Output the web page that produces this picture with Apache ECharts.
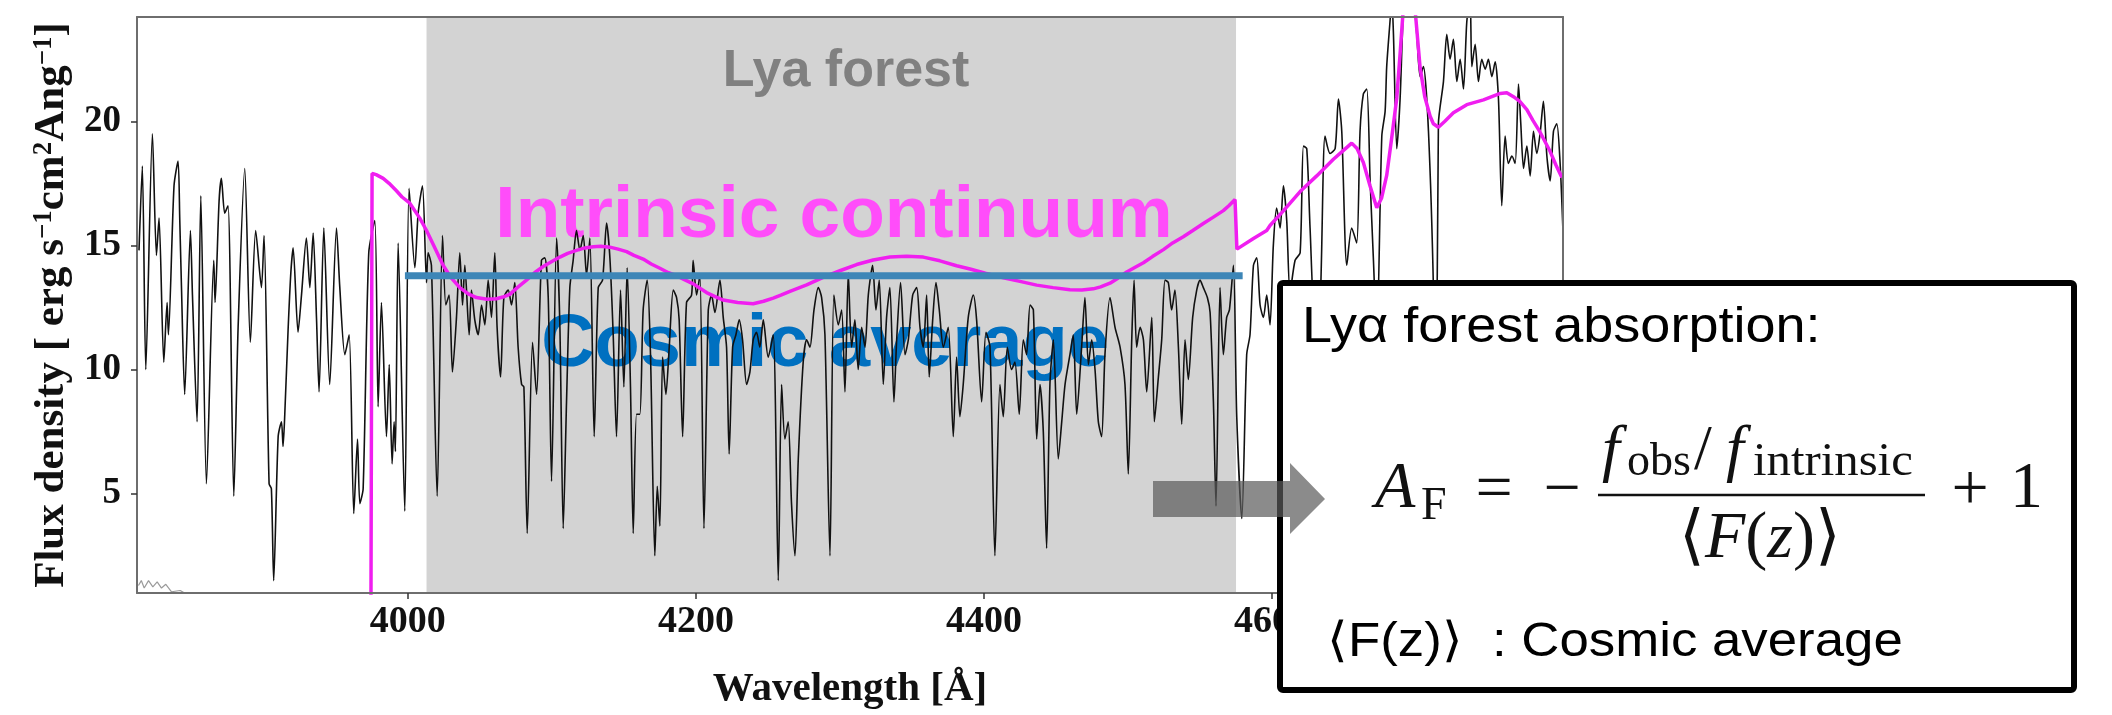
<!DOCTYPE html>
<html>
<head>
<meta charset="utf-8">
<script src="https://cdn.jsdelivr.net/npm/echarts@6/dist/echarts.min.js"></script>
<style>
  html, body { margin: 0; padding: 0; background: #fff; }
  #main { width: 2112px; height: 715px; }
</style>
</head>
<body>
<div id="main"></div>
<script>
// observed spectrum [wavelength (A), flux]
var obsSpectrum = [
  [3813.4,14.8],[3815.7,18.2],[3818.1,10.0],[3822.7,19.5],[3825.5,14.6],[3827.3,16.1],[3830.6,10.3],[3832.9,12.7],
  [3833.8,11.4],[3837.7,17.4],[3840.5,18.4],[3841.7,16.0],[3842.8,13.5],[3845.1,9.0],[3849.1,15.6],[3850.5,13.0],
  [3853.7,7.9],[3856.3,17.0],[3860.2,5.4],[3865.3,14.4],[3866.2,12.7],[3869.0,16.8],[3870.6,17.7],[3872.9,16.3],
  [3875.2,16.6],[3879.2,4.9],[3882.2,11.7],[3886.8,18.1],[3890.7,11.1],[3894.4,15.6],[3898.4,13.3],[3900.2,15.4],
  [3903.7,5.4],[3905.3,5.2],[3906.9,1.5],[3910.0,7.3],[3912.3,7.9],[3913.4,6.9],[3914.6,8.2],[3916.9,11.6],
  [3918.8,13.9],[3920.4,14.9],[3923.8,11.5],[3926.2,13.0],[3929.6,15.3],[3932.0,13.3],[3934.3,15.5],[3936.6,12.1],
  [3938.4,9.1],[3941.7,15.7],[3945.8,9.4],[3950.5,15.7],[3952.8,13.3],[3956.3,10.6],[3959.3,11.4],[3962.5,4.2],
  [3965.1,7.2],[3966.7,4.6],[3969.0,5.2],[3972.9,14.7],[3977.1,16.0],[3979.4,8.5],[3981.7,12.7],[3985.2,7.3],
  [3987.1,10.2],[3989.1,6.2],[3990.5,7.9],[3991.4,6.7],[3993.3,15.1],[3997.9,4.3],[4000.9,17.3],[4004.9,14.1],
  [4007.2,16.3],[4010.2,17.4],[4013.0,13.5],[4014.1,14.7],[4016.4,14.2],[4020.4,4.9],[4024.1,15.4],[4026.4,12.6],
  [4028.7,13.0],[4031.0,9.9],[4033.8,12.1],[4036.1,14.7],[4038.0,12.6],[4039.6,14.2],[4042.6,11.4],[4044.2,13.2],
  [4046.5,12.0],[4048.9,11.4],[4051.2,12.6],[4053.5,11.8],[4055.8,13.6],[4058.1,12.1],[4060.4,14.7],[4062.0,11.7],
  [4064.4,9.7],[4066.7,12.9],[4069.7,13.2],[4072.0,12.6],[4074.3,13.5],[4076.6,10.9],[4079.0,9.4],[4080.6,9.3],
  [4082.9,3.4],[4086.6,11.1],[4089.4,9.0],[4092.8,14.4],[4095.1,14.5],[4097.5,12.9],[4099.8,5.5],[4103.3,15.3],
  [4105.6,11.7],[4107.9,3.6],[4110.2,8.7],[4112.5,13.3],[4114.8,14.4],[4117.1,15.6],[4119.5,14.8],[4121.8,15.4],
  [4124.1,13.8],[4126.4,15.3],[4129.4,7.3],[4132.2,13.3],[4135.2,13.6],[4138.0,15.9],[4140.3,14.5],[4142.6,11.4],
  [4144.9,7.3],[4147.7,13.2],[4150.0,9.3],[4152.3,14.1],[4154.6,9.3],[4156.5,3.4],[4158.8,8.2],[4161.1,8.2],
  [4163.4,12.4],[4166.2,13.6],[4168.5,10.6],[4171.5,2.5],[4173.2,5.3],[4175.0,3.7],[4176.9,10.5],[4179.2,9.0],
  [4181.5,10.9],[4184.3,13.2],[4186.6,12.9],[4188.4,12.0],[4190.8,7.3],[4193.5,12.7],[4197.0,13.0],[4198.1,14.4],
  [4200.5,13.0],[4202.8,13.8],[4205.6,3.6],[4208.6,12.4],[4210.9,13.0],[4213.2,12.3],[4216.7,13.6],[4219.0,12.1],
  [4221.3,10.9],[4223.1,6.6],[4225.5,10.9],[4227.8,11.4],[4230.1,12.0],[4232.4,11.2],[4235.2,9.4],[4237.5,9.9],
  [4239.8,11.2],[4242.1,11.5],[4244.4,10.9],[4246.8,12.0],[4250.2,10.5],[4253.7,11.4],[4257.2,1.5],[4259.5,9.4],
  [4261.8,7.2],[4264.1,7.9],[4266.4,4.6],[4268.8,2.5],[4271.1,6.4],[4274.5,10.3],[4276.9,11.2],[4279.2,10.9],
  [4282.0,12.4],[4285.0,13.3],[4287.3,12.9],[4289.6,11.4],[4293.1,2.5],[4295.8,13.0],[4298.9,11.8],[4301.2,12.4],
  [4303.5,9.1],[4305.8,13.9],[4308.1,10.9],[4310.4,12.0],[4312.7,10.0],[4315.1,11.7],[4317.4,10.9],[4319.7,13.0],
  [4322.7,14.2],[4325.0,12.4],[4327.3,13.6],[4330.1,9.4],[4332.4,12.1],[4334.7,13.3],[4337.5,8.7],[4339.4,11.2],
  [4342.1,13.5],[4345.2,10.6],[4347.5,11.2],[4350.5,13.0],[4353.3,13.3],[4355.6,11.7],[4357.9,10.9],[4360.2,13.0],
  [4362.0,9.7],[4364.4,12.0],[4366.7,13.5],[4369.0,12.4],[4371.8,10.9],[4375.2,11.7],[4378.7,7.3],[4381.0,10.5],
  [4383.3,8.1],[4385.6,9.4],[4389.1,12.1],[4392.6,13.0],[4394.9,12.0],[4398.4,8.7],[4401.4,11.5],[4404.2,10.9],
  [4407.6,2.5],[4411.1,9.4],[4413.4,8.1],[4416.2,10.9],[4419.2,10.0],[4421.5,10.3],[4424.5,8.2],[4427.3,11.2],
  [4429.6,10.6],[4432.0,12.6],[4434.3,12.4],[4436.6,7.2],[4438.9,9.4],[4441.2,7.5],[4443.5,2.8],[4445.8,9.4],
  [4448.2,11.2],[4451.6,6.4],[4454.0,7.9],[4456.3,9.4],[4459.7,10.6],[4462.0,11.4],[4464.4,8.2],[4467.8,10.9],
  [4470.1,12.9],[4472.5,10.2],[4474.8,11.2],[4477.1,10.0],[4479.4,7.9],[4481.7,7.3],[4484.0,10.6],[4487.5,12.9],
  [4491.0,11.7],[4494.5,10.9],[4497.9,9.4],[4500.2,5.8],[4502.6,11.2],[4504.2,13.6],[4506.0,10.9],[4508.4,11.7],
  [4510.7,11.2],[4513.0,9.1],[4516.5,12.1],[4518.3,7.9],[4521.1,9.7],[4523.4,11.2],[4525.7,13.6],[4528.0,13.5],
  [4530.3,12.4],[4532.6,13.2],[4535.0,10.9],[4537.3,7.8],[4539.6,11.2],[4541.9,9.6],[4544.9,12.1],[4547.7,13.2],
  [4550.0,13.6],[4552.3,13.3],[4555.1,12.9],[4557.0,12.3],[4559.3,8.7],[4561.1,4.5],[4563.9,13.3],[4566.2,10.6],
  [4568.5,12.1],[4570.4,12.4],[4573.2,14.2],[4575.5,8.1],[4579.0,4.0],[4582.4,10.6],[4584.7,11.4],[4587.1,14.2],
  [4589.4,14.5],[4591.7,12.6],[4594.0,12.1],[4596.3,13.0],[4598.6,11.8],[4600.9,15.0],[4603.2,16.5],[4605.6,15.7],
  [4607.9,17.4],[4610.2,16.0],[4612.5,13.1],[4616.0,14.4],[4619.5,14.7],[4621.8,19.0],[4624.1,18.9],[4626.4,15.7],
  [4629.9,11.8],[4633.3,12.5],[4636.8,19.4],[4640.3,18.7],[4643.8,18.9],[4646.1,20.9],[4648.4,19.6],[4651.9,14.2],
  [4655.3,15.7],[4658.8,15.1],[4661.1,19.6],[4663.4,21.1],[4665.8,21.3],[4668.1,17.6],[4670.4,14.4],[4672.7,11.2],
  [4676.2,19.4],[4678.5,20.4],[4679.6,22.2],[4682.0,24.1],[4683.1,25.0],[4684.3,23.5],[4686.6,18.9],[4688.9,20.9],
  [4691.2,24.5],[4694.0,26.5],[4697.0,26.0],[4700.5,23.5],[4702.8,21.8],[4705.1,22.2],[4708.6,19.6],[4712.1,13.1],
  [4713.9,5.0],[4715.5,19.9],[4719.0,21.6],[4721.3,23.5],[4723.6,22.5],[4725.9,23.3],[4728.3,21.6],[4730.6,22.5],
  [4732.9,21.3],[4735.2,24.0],[4737.5,25.0],[4738.7,22.2],[4741.0,23.1],[4743.3,21.6],[4745.6,22.5],[4748.0,22.1],
  [4750.2,22.5],[4752.6,21.8],[4754.9,22.4],[4757.2,20.9],[4759.5,16.6],[4761.8,19.4],[4764.1,18.3],[4766.5,18.6],
  [4768.8,18.3],[4771.1,21.5],[4772.7,19.9],[4774.6,18.1],[4776.9,19.0],[4779.2,17.8],[4781.5,19.6],[4783.8,18.7],
  [4786.1,19.5],[4788.4,20.8],[4790.8,18.6],[4793.1,17.6],[4795.4,19.6],[4797.7,19.9],[4800.0,18.3],[4801.9,15.7]
];

// intrinsic continuum fit
var intrinsicCont = [
  [3974.4,0.0],[3975.2,17.9],[3978,17.85],[3982.9,17.7],[3987,17.5],[3992.1,17.2],[3996,16.95],[4001.4,16.7],
  [4008.3,16.1],[4013.0,15.6],[4018,15.0],[4024.5,14.2],[4030,13.7],[4036.1,13.3],[4042,13.05],[4047.7,12.9],
  [4055,12.83],[4061.6,12.85],[4066,12.92],[4070.8,13.03],[4076,13.3],[4082.4,13.6],[4088,13.9],[4094.0,14.15],
  [4100,14.35],[4105.6,14.53],[4111,14.68],[4117.1,14.8],[4123,14.9],[4128.7,14.95],[4134,14.97],[4140.3,14.93],
  [4146,14.85],[4151.9,14.75],[4157,14.6],[4163.4,14.45],[4169,14.25],[4175.0,14.08],[4181,13.9],[4186.6,13.78],
  [4192,13.62],[4198.2,13.45],[4207.4,13.1],[4213,12.95],[4219.0,12.8],[4229,12.7],[4239.8,12.65],[4247,12.75],
  [4253.7,12.88],[4259,13.0],[4265.3,13.15],[4276.9,13.41],[4288.4,13.71],[4300.0,13.98],[4311.6,14.23],[4323.1,14.41],
  [4334.7,14.53],[4346.3,14.56],[4357.9,14.53],[4369.4,14.38],[4381.0,14.18],[4390.3,14.05],[4401,13.88],[4413.4,13.7],
  [4425,13.55],[4436.6,13.4],[4448,13.3],[4459.7,13.21],[4468,13.2],[4475.9,13.25],[4481,13.33],[4487.5,13.48],
  [4493,13.68],[4499.1,13.93],[4505,14.12],[4510.7,14.3],[4517,14.55],[4524.6,14.83],[4531,15.1],[4538.4,15.35],
  [4545,15.6],[4552.3,15.88],[4559,16.13],[4566.2,16.4],[4570,16.6],[4574.3,16.85],[4575.6,14.85],[4587.1,15.28],
  [4596.3,15.6],[4598.6,15.8],[4608,16.4],[4619.5,17.17],[4631,17.8],[4642.6,18.47],[4650,18.85],[4655.3,19.12],
  [4659,18.9],[4663.4,18.34],[4668,17.4],[4672.7,16.52],[4676,16.9],[4679.6,17.82],[4683,19.3],[4686.6,20.94],
  [4689,22.8],[4691.2,24.6],[4693,25.8],[4695,26.2],[4697,25.7],[4699.3,24.5],[4702.8,22.16],[4706,21.0],
  [4709.7,20.21],[4712,19.9],[4715.5,19.76],[4720,20.0],[4725.9,20.34],[4735.2,20.67],[4746.8,20.86],[4758.4,21.12],
  [4763,21.15],[4767.6,20.99],[4772,20.8],[4776.9,20.47],[4781,20.05],[4786.1,19.56],[4793.1,18.78],[4797,18.25],
  [4801.2,17.74]
];

// faint error spectrum near the bottom left
var noiseSpectrum = [
  [3813,1.3],[3815,1.5],[3817,1.2],[3820,1.5],[3823,1.25],[3826,1.45],[3829,1.2],[3832,1.35],[3836,1.05],[3842,1.1],[3848,0.9]
];

// cosmic average level across the forest
var cosmicAvg = [[3998, 13.78], [4579.6, 13.78]];

// shaded Lya forest window
var forestRange = [4013, 4575];

var xTicks = [4000, 4200, 4400, 4600];
var yTicks = [5, 10, 15, 20];

var chart = echarts.init(document.getElementById('main'));

var serif = 'Liberation Serif, Times New Roman, serif';
var sans = 'Liberation Sans, Helvetica, Arial, sans-serif';
var frameColor = '#6e6e6e';

var option = {
  backgroundColor: '#fff',
  animation: false,
  grid: { left: 137, right: 549, top: 17, bottom: 105 },
  xAxis: [
    {
      type: 'value', min: 3812, max: 4802, z: 8,
      axisLine: { show: true, lineStyle: { color: frameColor, width: 2 } },
      axisTick: { show: true, customValues: xTicks, length: 6, lineStyle: { color: '#333', width: 1.5 } },
      axisLabel: {
        customValues: xTicks, margin: 10, color: '#111',
        fontFamily: serif, fontWeight: 'bold', fontSize: 38,
        formatter: function (v) { return String(v); }
      },
      splitLine: { show: false },
      name: 'Wavelength [Å]', nameLocation: 'middle', nameGap: 76,
      nameTextStyle: { fontFamily: serif, fontWeight: 'bold', fontSize: 41, color: '#111' }
    },
    {
      type: 'value', position: 'top', min: 3812, max: 4802, z: 8,
      axisLine: { show: true, lineStyle: { color: frameColor, width: 2 } },
      axisTick: { show: false }, axisLabel: { show: false }, splitLine: { show: false }
    }
  ],
  yAxis: [
    {
      type: 'value', min: 1.0, max: 24.2, z: 8,
      axisLine: { show: true, lineStyle: { color: frameColor, width: 2 } },
      axisTick: { show: true, customValues: yTicks, length: 6, lineStyle: { color: '#333', width: 1.5 } },
      axisLabel: {
        customValues: yTicks, margin: 16, color: '#111',
        fontFamily: serif, fontWeight: 'bold', fontSize: 37
      },
      splitLine: { show: false },
      name: 'Flux density [ erg s{sup|−1}cm{sup|2}Ang{sup|−1}]',
      nameLocation: 'middle', nameRotate: 90, nameGap: 50,
      nameTextStyle: {
        fontFamily: serif, fontWeight: 'bold', fontSize: 43, color: '#111',
        rich: {
          sup: { fontFamily: serif, fontWeight: 'bold', fontSize: 27, color: '#111', verticalAlign: 'top', padding: [0, 0, 14, 0] }
        }
      }
    },
    {
      type: 'value', position: 'right', min: 1.0, max: 24.2, z: 8,
      axisLine: { show: true, lineStyle: { color: frameColor, width: 2 } },
      axisTick: { show: false }, axisLabel: { show: false }, splitLine: { show: false }
    }
  ],
  series: [
    {
      // Lya forest shading
      type: 'line', data: [], z: 1, silent: true,
      markArea: {
        silent: true, z: 1,
        itemStyle: { color: '#d3d3d3', opacity: 1 },
        data: [[{ xAxis: forestRange[0] }, { xAxis: forestRange[1] }]]
      }
    },
    {
      type: 'line', data: noiseSpectrum, z: 3, symbol: 'none', silent: true,
      lineStyle: { color: '#9a9a9a', width: 1.2 }
    },
    {
      type: 'line', data: obsSpectrum, z: 3, symbol: 'none', silent: true, smooth: 0.25,
      lineStyle: { color: '#111', width: 1.6 }
    },
    {
      type: 'line', data: intrinsicCont, z: 4, symbol: 'none', silent: true,
      lineStyle: { color: '#f01ef0', width: 3.5 }
    },
    {
      type: 'line', data: cosmicAvg, z: 5, symbol: 'none', silent: true,
      lineStyle: { color: '#3d86b7', width: 7, cap: 'butt' }
    }
  ],
  graphic: {
    elements: [
      { type: 'text', z: 2, x: 846, y: 72,
        style: { text: 'Lya forest', fill: '#808080', font: 'bold 52px ' + sans, align: 'center', verticalAlign: 'middle' } },
      { type: 'text', z: 2, x: 834, y: 217,
        style: { text: 'Intrinsic continuum', fill: '#ff4dfa', font: 'bold 73px ' + sans, align: 'center', verticalAlign: 'middle' } },
      { type: 'text', z: 2, x: 825, y: 346,
        style: { text: 'Cosmic average', fill: '#0070c0', font: 'bold 74px ' + sans, align: 'center', verticalAlign: 'middle' } },

      // explanation box
      { type: 'rect', z: 10, shape: { x: 1280, y: 283, width: 794, height: 407, r: 3 },
        style: { fill: '#fff', stroke: '#000', lineWidth: 6 } },
      { type: 'polygon', z: 11,
        shape: { points: [[1153, 481], [1290, 481], [1290, 463], [1325, 499], [1290, 534], [1290, 517], [1153, 517]] },
        style: { fill: 'rgba(90,90,90,0.7)' } },
      { type: 'text', z: 12, x: 1302, y: 328, scaleX: 1.08,
        style: { text: 'Lyα forest absorption:', fill: '#000', font: '50px ' + sans, align: 'left', verticalAlign: 'middle' } },

      // A_F = - (f_obs / f_intrinsic) / <F(z)> + 1
      { type: 'text', z: 12, x: 1375, y: 490,
        style: { text: 'A', fill: '#111', font: 'italic 66px ' + serif, align: 'left', verticalAlign: 'middle' } },
      { type: 'text', z: 12, x: 1421, y: 507,
        style: { text: 'F', fill: '#111', font: '46px ' + serif, align: 'left', verticalAlign: 'middle' } },
      { type: 'text', z: 12, x: 1494, y: 492,
        style: { text: '=', fill: '#111', font: '66px ' + serif, align: 'center', verticalAlign: 'middle' } },
      { type: 'text', z: 12, x: 1562, y: 492,
        style: { text: '−', fill: '#111', font: '66px ' + serif, align: 'center', verticalAlign: 'middle' } },
      { type: 'line', z: 12, shape: { x1: 1598, y1: 495, x2: 1925, y2: 495 },
        style: { stroke: '#111', lineWidth: 2.5 } },
      { type: 'text', z: 12, x: 1602, y: 452,
        style: { text: 'f', fill: '#111', font: 'italic 64px ' + serif, align: 'left', verticalAlign: 'middle' } },
      { type: 'text', z: 12, x: 1627, y: 463,
        style: { text: 'obs', fill: '#111', font: '46px ' + serif, align: 'left', verticalAlign: 'middle' } },
      { type: 'text', z: 12, x: 1694, y: 452,
        style: { text: '/', fill: '#111', font: '64px ' + serif, align: 'left', verticalAlign: 'middle' } },
      { type: 'text', z: 12, x: 1726, y: 452,
        style: { text: 'f', fill: '#111', font: 'italic 64px ' + serif, align: 'left', verticalAlign: 'middle' } },
      { type: 'text', z: 12, x: 1753, y: 463, scaleX: 1.06,
        style: { text: 'intrinsic', fill: '#111', font: '46px ' + serif, align: 'left', verticalAlign: 'middle' } },
      { type: 'text', z: 12, x: 1760, y: 540,
        style: {
          text: '{u|⟨}{i|F}{u|(}{i|z}{u|)⟩}', align: 'center', verticalAlign: 'middle',
          rich: {
            u: { fontFamily: serif, fontSize: 66, fill: '#111' },
            i: { fontFamily: serif, fontStyle: 'italic', fontSize: 66, fill: '#111' }
          }
        } },
      { type: 'text', z: 12, x: 1970, y: 492,
        style: { text: '+', fill: '#111', font: '66px ' + serif, align: 'center', verticalAlign: 'middle' } },
      { type: 'text', z: 12, x: 2010, y: 490,
        style: { text: '1', fill: '#111', font: '66px ' + serif, align: 'left', verticalAlign: 'middle' } },

      { type: 'text', z: 12, x: 1327, y: 643, scaleX: 1.1,
        style: { text: '⟨F(z)⟩  : Cosmic average', fill: '#000', font: '48px ' + sans, align: 'left', verticalAlign: 'middle' } }
    ]
  }
};
chart.setOption(option);
</script>
</body>
</html>
